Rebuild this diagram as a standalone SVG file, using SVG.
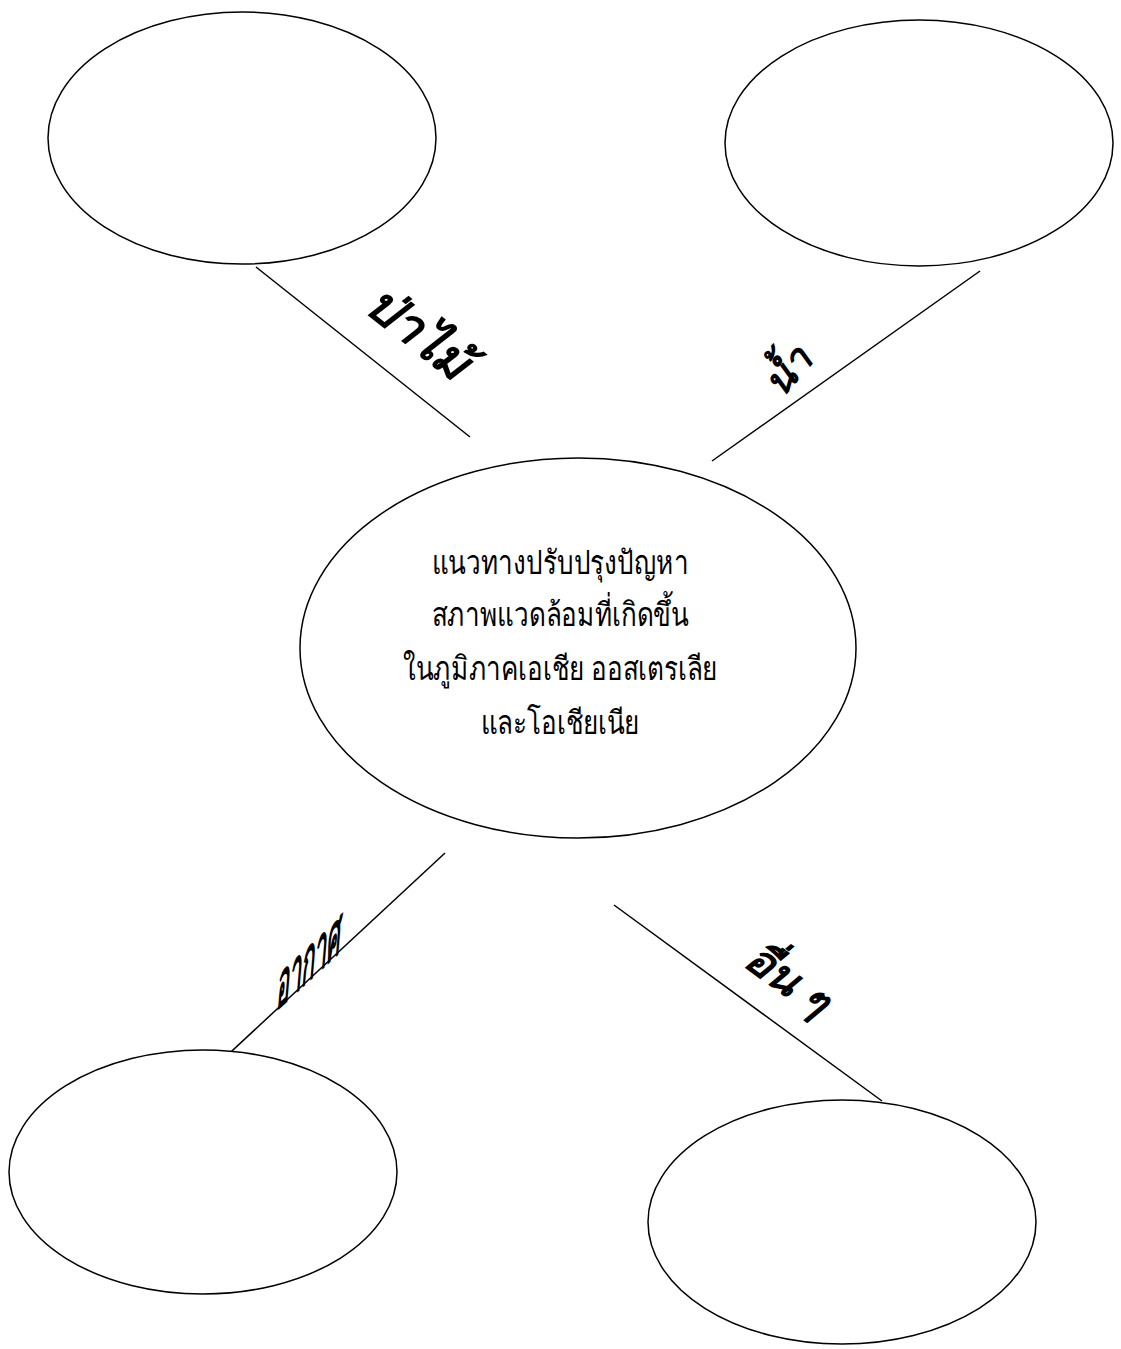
<svg xmlns="http://www.w3.org/2000/svg" width="1121" height="1349" viewBox="0 0 1121 1349">
<style>
.node ellipse{fill:#fff;stroke:#000;stroke-width:1.5}
.conn line{stroke:#000;stroke-width:1.5}
.main{font-family:"Noto Sans","DejaVu Sans","Liberation Sans",sans-serif;font-size:33px;fill:#000;text-anchor:middle}
.lab{font-family:"Noto Sans","DejaVu Sans","Liberation Sans",sans-serif;font-weight:bold;font-style:italic;fill:#000;text-anchor:middle}
</style>
<rect width="1121" height="1349" fill="#fff"/>
<g id="connectors" class="conn">
<line x1="256" y1="267" x2="470" y2="437"/>
<line x1="980" y1="271" x2="712" y2="461"/>
<line x1="445" y1="853" x2="205" y2="1076"/>
<line x1="614" y1="905" x2="882" y2="1101"/>
</g>
<g id="node-top-left" class="node"><ellipse cx="242" cy="138" rx="194" ry="126"/></g>
<g id="node-top-right" class="node"><ellipse cx="919" cy="143" rx="194" ry="123"/></g>
<g id="node-center" class="node"><ellipse cx="578" cy="648" rx="278" ry="190"/>
<text class="main" transform="translate(560,574) scale(0.79,1)">แนวทางปรับปรุงปัญหา</text>
<text class="main" transform="translate(560,626) scale(0.79,1)">สภาพแวดล้อมที่เกิดขึ้น</text>
<text class="main" transform="translate(560,680) scale(0.79,1)">ในภูมิภาคเอเชีย ออสเตรเลีย</text>
<text class="main" transform="translate(560,734) scale(0.79,1)">และโอเชียเนีย</text>
</g>
<g id="node-bottom-left" class="node"><ellipse cx="203" cy="1172" rx="194" ry="122"/></g>
<g id="node-bottom-right" class="node"><ellipse cx="842" cy="1222" rx="194" ry="122"/></g>
<g id="labels">
<text class="lab" font-size="50" transform="translate(408,346) rotate(38)">ป่าไม้</text>
<text class="lab" font-size="40" transform="translate(798,380) rotate(-50)">น้ำ</text>
<text class="lab" font-size="36" transform="translate(308,982) skewY(-42) scale(0.6,1.7)">อากาศ</text>
<text class="lab" font-size="44" transform="translate(779,992) rotate(36)">อื่น ๆ</text>
</g>
</svg>
